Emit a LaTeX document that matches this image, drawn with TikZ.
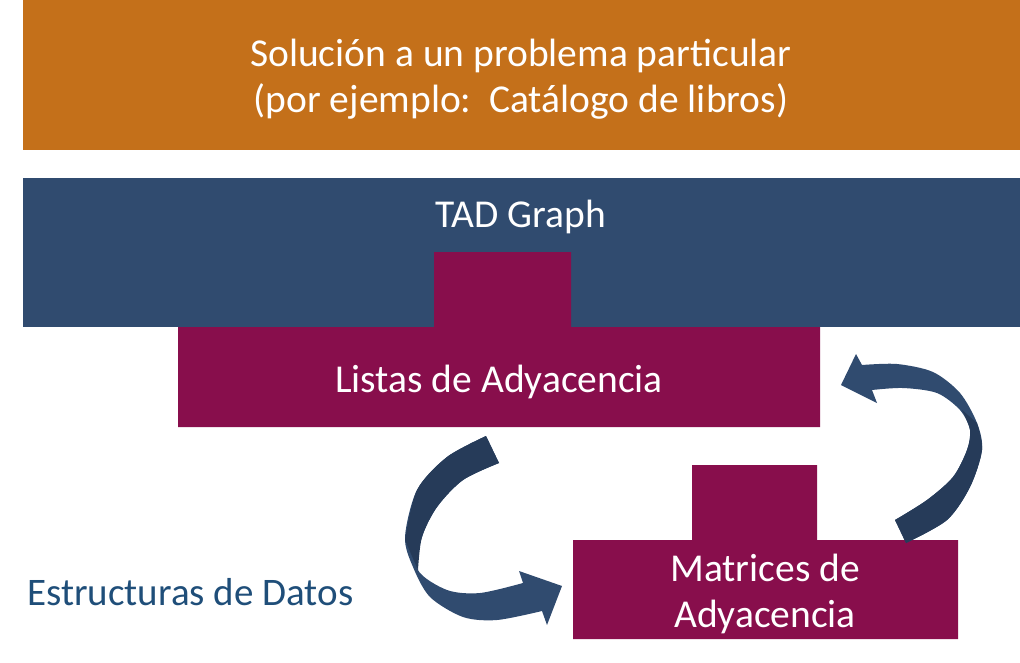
\documentclass[tikz,border=0pt]{standalone}
\usepackage{fontspec}
\setmainfont{Carlito}
\definecolor{orangebox}{HTML}{C4701A}
\definecolor{bluebox}{HTML}{304B6F}
\definecolor{magbox}{HTML}{880E4C}
\definecolor{arrowlight}{HTML}{304B6F}
\definecolor{arrowdark}{HTML}{263B59}
\definecolor{labelblue}{HTML}{1F4E79}
\tikzset{
  boxtext/.style={text=white, inner sep=0pt, font=\fontsize{39.5}{46}\selectfont, align=center},
}
\begin{document}
\begin{tikzpicture}[x=1pt,y=-1pt]
\useasboundingbox (0,0) rectangle (1020,662);
% boxes
\fill[orangebox] (23,0) rectangle (1020,150);
\fill[bluebox] (23,178) rectangle (1020,327);
\fill[magbox] (178,427) -- (178,327) -- (434,327) -- (434,252) -- (571,252) -- (571,327) -- (820,327) -- (820,427) -- cycle;
\fill[magbox] (573,639) -- (573,540) -- (692,540) -- (692,465) -- (817,465) -- (817,540) -- (958,540) -- (958,639) -- cycle;
% texts
\node[boxtext] (sol) at (521,79) {Solución a un problema particular\\(por ejemplo:\ \ Catálogo de libros)};
\node[boxtext, anchor=base] (tad) at (521,227) {TAD Graph};
\node[boxtext, anchor=base] (listas) at (499,392) {Listas de Adyacencia};
\node[boxtext] (matrices) at (765,594) {Matrices de\\Adyacencia};
\node[inner sep=0pt, anchor=base west, text=labelblue, font=\fontsize{39}{47}\selectfont] (ed) at (27,605) {Estructuras de Datos};
% left curved arrow
\fill[arrowlight] plot[smooth] coordinates {(486,436) (447,457) (417,490) (405,537) (413,567) (430,597) (463,617) (497,620) (542,611)}
  -- (547,625) -- (562,586) -- (519,571) -- (523,583)
  -- plot[smooth] coordinates {(523,583) (480,593) (447,590) (418,570) (422,537) (437,507) (463,480) (499,463)} -- cycle;
\fill[arrowdark] plot[smooth] coordinates {(486,436) (447,457) (417,490) (405,540)}
  -- (418,570)
  -- plot[smooth] coordinates {(418,570) (422,537) (437,507) (463,480) (499,463)} -- cycle;
% right curved arrow
\fill[arrowlight] plot[smooth] coordinates {(906,543) (947,520) (970,487) (982,450) (977,423) (960,393) (933,372) (897,364) (862,365)}
  -- (856,354) -- (841,385) -- (877,403) -- (872,390)
  -- plot[smooth] coordinates {(872,390) (903,388) (937,393) (960,410) (970,430) (967,450) (953,477) (927,500) (895,520)} -- cycle;
\fill[arrowdark] plot[smooth] coordinates {(906,543) (947,520) (970,487) (982,450) (977,423)}
  -- (962,410)
  -- plot[smooth] coordinates {(962,410) (970,430) (967,450) (953,477) (927,500) (895,520)} -- cycle;
\end{tikzpicture}
\end{document}
